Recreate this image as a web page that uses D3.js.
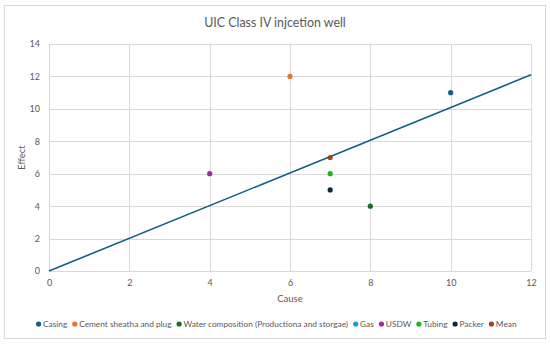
<!DOCTYPE html>
<html>
<head>
<meta charset="utf-8">
<script src="https://cdn.jsdelivr.net/npm/d3@7"></script>
<style>
  body { margin: 0; background: #fff; }
  text { font-family: Lato, "Noto Sans", sans-serif; fill: #595959; }
</style>
</head>
<body>
<div id="chart"></div>
<script>
// series, one point each (Gas has no visible point)
var seriesNames = ["Casing", "Cement sheatha and plug", "Water composition (Productiona and storgae)", "Gas", "USDW", "Tubing", "Packer", "Mean"];
var seriesColors = ["#156082", "#E97132", "#196B24", "#0F9ED5", "#A02B93", "#22B02B", "#0E2841", "#A0451A"];
var causeValues = [10, 6, 8, null, 4, 7, 7, 7];
var effectValues = [11, 12, 4, null, 6, 6, 5, 7];

// straight line drawn through the chart
var lineCause = [0, 12];
var lineEffect = [0, 12.1];

var xTicks = [0, 2, 4, 6, 8, 10, 12];
var yTicks = [0, 2, 4, 6, 8, 10, 12, 14];

var svgWidth = 550, svgHeight = 346;
var margin = { top: 44, right: 19, bottom: 75, left: 49 };
var width = svgWidth - margin.left - margin.right;
var height = svgHeight - margin.top - margin.bottom;

var svg = d3.select("#chart").append("svg")
  .attr("width", svgWidth).attr("height", svgHeight);

// chart border
svg.append("rect")
  .attr("x", 4.5).attr("y", 5.5)
  .attr("width", 541).attr("height", 333)
  .attr("fill", "none").attr("stroke", "#d9d9d9");

svg.append("text")
  .attr("x", 275).attr("y", 27)
  .attr("text-anchor", "middle")
  .attr("font-size", "12.4px")
  .text("UIC Class IV injcetion well");

var chartGroup = svg.append("g")
  .attr("transform", `translate(${margin.left}, ${margin.top})`);

var xScale = d3.scaleLinear().domain([0, 12]).range([0, width]);
var yScale = d3.scaleLinear().domain([0, 14]).range([height, 0]);

// grid
chartGroup.selectAll(".vgrid").data(xTicks).enter().append("line")
  .attr("x1", d => Math.round(xScale(d)) + 0.5).attr("x2", d => Math.round(xScale(d)) + 0.5)
  .attr("y1", 0).attr("y2", height)
  .attr("stroke", "#d9d9d9");
chartGroup.selectAll(".hgrid").data(yTicks).enter().append("line")
  .attr("y1", d => Math.round(yScale(d)) + 0.5).attr("y2", d => Math.round(yScale(d)) + 0.5)
  .attr("x1", 0).attr("x2", width)
  .attr("stroke", "#d9d9d9");

// axes
var xAxis = chartGroup.append("g")
  .attr("transform", `translate(0, ${height})`)
  .call(d3.axisBottom(xScale).tickValues(xTicks).tickSize(0).tickPadding(9));
var yAxis = chartGroup.append("g")
  .call(d3.axisLeft(yScale).tickValues(yTicks).tickSize(0).tickPadding(9));
[xAxis, yAxis].forEach(function(a) {
  a.select(".domain").remove();
  a.selectAll("text").attr("font-size", "9px").attr("fill", "#595959")
    .style("font-family", "Lato, 'Noto Sans', sans-serif");
});

svg.append("text")
  .attr("x", margin.left + width / 2).attr("y", 302)
  .attr("text-anchor", "middle").attr("font-size", "9.5px")
  .text("Cause");
svg.append("text")
  .attr("transform", `translate(25, ${margin.top + height / 2}) rotate(-90)`)
  .attr("text-anchor", "middle").attr("font-size", "9.5px")
  .text("Effect");

// line
chartGroup.append("path")
  .datum(lineCause.map((c, i) => [c, lineEffect[i]]))
  .attr("d", d3.line().x(d => xScale(d[0])).y(d => yScale(d[1])))
  .attr("fill", "none").attr("stroke", "#156082").attr("stroke-width", 1.6);

// points
var pts = seriesNames.map((n, i) => ({ name: n, color: seriesColors[i], x: causeValues[i], y: effectValues[i] }))
  .filter(d => d.x !== null);
chartGroup.selectAll("circle").data(pts).enter().append("circle")
  .attr("cx", d => xScale(d.x)).attr("cy", d => yScale(d.y))
  .attr("r", 2.6).attr("fill", d => d.color);

// legend
var legend = svg.append("g").attr("transform", "translate(36, 324)");
var lx = 0;
seriesNames.forEach(function(n, i) {
  var item = legend.append("g").attr("transform", `translate(${lx}, 0)`);
  item.append("circle").attr("cx", 2.6).attr("cy", 0).attr("r", 2.6).attr("fill", seriesColors[i]);
  var t = item.append("text").attr("x", 7).attr("y", 3).attr("font-size", "8.3px").text(n);
  lx += 7 + t.node().getComputedTextLength() + 5;
});
</script>
</body>
</html>
